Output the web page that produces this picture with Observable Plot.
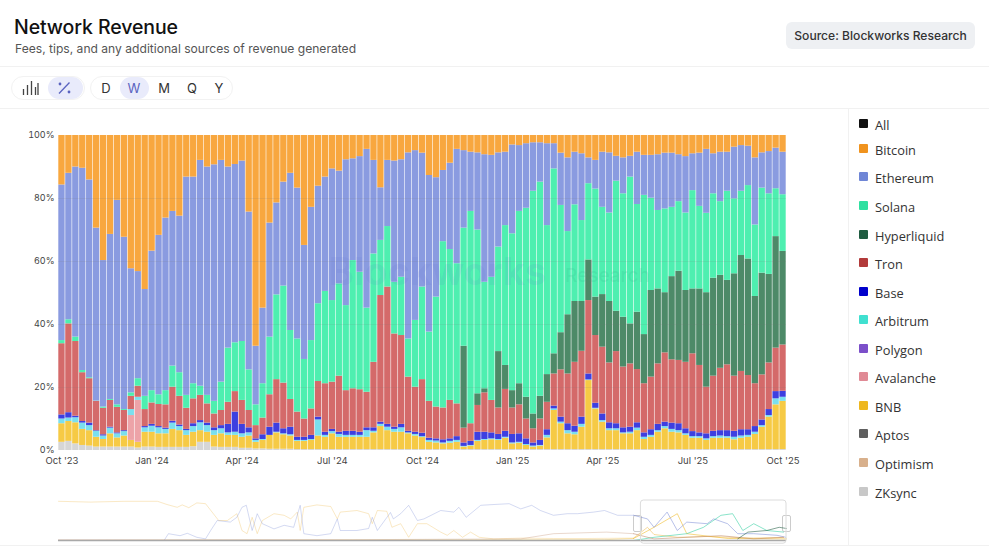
<!DOCTYPE html>
<html><head><meta charset="utf-8">
<script src="https://cdn.jsdelivr.net/npm/d3@7"></script>
<script src="https://cdn.jsdelivr.net/npm/@observablehq/plot@0.6"></script>
<style>
html,body{margin:0;padding:0;background:#fff;width:989px;height:549px;overflow:hidden;font-family:Inter,"Noto Sans",sans-serif;color:#111}
.abs{position:absolute}
#title{left:14px;top:14px;font-size:19.5px;font-weight:500;line-height:26px;letter-spacing:-.1px}
#sub{left:15px;top:40px;font-size:12.1px;color:#555;line-height:17px}
#src{left:786px;top:22px;width:189px;height:27px;line-height:27px;background:#eef0f3;border-radius:6px;text-align:center;font-size:12.1px;font-weight:500;color:#333}
.rule{background:#f1f1f1;height:1px}
.grp{border:1px solid #f2f2f2;border-radius:13px;height:24px;top:76px;box-sizing:border-box}
.pill{background:#e9ebfb;border-radius:11px;height:22px;top:77px}
.tf{top:80px;font-size:13px;line-height:17px;width:20px;text-align:center;color:#333}
.sw{left:859px;width:9px;height:9px;border-radius:1px}
.lg{left:875px;font-size:12.8px;line-height:16px;color:#333;font-family:"Open Sans",sans-serif}
#main,#nav{position:absolute;left:0}
#main{top:108px}#nav{top:490px}
svg{display:block;overflow:visible}
.hd{background:#fff;border:1px solid #ccc;border-radius:2px;width:7px;height:15px;top:515px}
</style></head><body>
<div id="title" class="abs">Network Revenue</div>
<div id="sub" class="abs">Fees, tips, and any additional sources of revenue generated</div>
<div id="src" class="abs">Source: Blockworks Research</div>
<div class="abs rule" style="left:0;top:66px;width:989px"></div>
<div class="abs rule" style="left:0;top:108px;width:989px"></div>
<div class="abs rule" style="left:0;top:545px;width:989px"></div>
<div class="abs" style="left:848px;top:108px;width:1px;height:437px;background:#f1f1f1"></div>
<div class="abs grp" style="left:11px;width:74px"></div>
<div class="abs grp" style="left:90px;width:143px"></div>
<div class="abs pill" style="left:48px;width:35px"></div>
<div class="abs pill" style="left:120px;width:29px"></div>
<svg class="abs" style="left:22px;top:80px" width="17" height="16" viewBox="0 0 17 16"><path d="M1.5 15V9M5.5 15V5M9.5 15V1M13.5 15V7" stroke="#444" stroke-width="1.3" fill="none"/><path d="M16 15V3" stroke="#444" stroke-width="1.3"/></svg>
<svg class="abs" style="left:57px;top:81px" width="15" height="14" viewBox="0 0 15 14"><path d="M12.5 1.5 2 12.5" stroke="#5a63c0" stroke-width="1.3"/><circle cx="3" cy="3" r="1.4" fill="#5a63c0"/><circle cx="12" cy="11" r="1.4" fill="#5a63c0"/></svg>
<div id="tfs"></div><div id="legend"></div>
<div id="main"></div><div id="nav"></div>
<script>
const weekCount = 105;
const tickWeeks = [0,13,26,39,52,65,78,91,104];
const tickLabels = ["Oct '23","Jan '24","Apr '24","Jul '24","Oct '24","Jan '25","Apr '25","Jul '25","Oct '25"];
const timeframes = ["D","W","M","Q","Y"];
const legendNames = ["All","Bitcoin","Ethereum","Solana","Hyperliquid","Tron","Base","Arbitrum","Polygon","Avalanche","BNB","Aptos","Optimism","ZKsync"];
const legendColors = ["#111111","#f0931e","#6f86d6","#2fe0a0","#1f5c41","#b23a3a","#0000cc","#40e0d0","#7b4fc9","#e08a95","#eeb71f","#5f5f5f","#d8b08c","#c8c8c8"];
const barNames = ["Bitcoin","Ethereum","Solana","Hyperliquid","Tron","Base","Arbitrum","Avalanche","BNB","ZKsync"];
const barColors = ["#f8a73f","#8a9be0","#4eefb0","#4d8a68","#d46a6a","#3d3fe0","#7adfee","#eda3a8","#f6ca45","#d6d6d6"];

// upper edge of each band in the 100% stack, percent
const ethereumTop = [84.3,88,90,89.6,85.9,70.6,60.3,68.6,79.4,67.7,57.7,56.8,51.1,63.3,68.3,73.8,75.9,74.4,86.8,86.8,92.1,90,90.7,92.1,90,90.8,91.9,75.7,33.1,45.2,72.2,78.6,85.2,88,83.3,
65.1,77.2,83.9,86.8,89.4,88.7,92.3,92.6,93.3,95.6,92.1,83.4,92.1,91.9,92.3,94.5,95.2,94.4,87.3,86.6,88.9,91.2,95.6,95.2,94.7,94.5,93.9,93.7,94.5,94.7,97,96.8,97.4,97.7,97.7,97.4,
97.4,94.4,92.9,94.7,94.2,92.9,92.1,94.7,94.5,93.4,92.9,93.4,94.7,93.7,93.7,93.9,94.4,94.4,93.9,93.3,94.2,94.4,95.6,94.2,94.7,94.7,96.3,96.8,96.6,92.9,94.5,94.9,96,94.7];
const solanaTop = [34.9,41.5,36,25.4,23.1,15.7,13.8,16.2,14.5,13,18.3,22.8,17.2,19,17.7,19,26.8,24.7,17.5,21.2,20.4,17.5,15.6,21.7,32.5,34.2,34.6,25.6,14.5,21.2,36,49.4,52.2,38.1,35.4,
28.9,34.9,46.6,50.5,47.6,52.9,46,60.3,56.6,45.2,62.4,66.7,71.1,53.4,55,35.4,41.3,51.9,37.6,48.7,66.3,63.8,59.3,70.6,75.9,70,53.4,55,64.6,71.4,68.8,75.9,76.9,82.3,85.2,71.4,
89.4,77.8,69.5,78,73,84.7,83,77.2,75.4,85.5,81.5,86.8,78.1,81,80.1,76.2,76.7,77.2,79,75.4,82.5,77.5,75.3,81.5,79,82.3,79.9,82.3,84.1,71.6,83.3,81.5,83.1,81.2];
const hyperliquidShare = [0,0,0,0,0,0,0,0,0,0,0,0,0,0,0,0,0,0,0,0,0,0,0,0,0,0,0,0,0,0,0,0,0,0,0,
0,0,0,0,0,0,0,0,0,0,0,0,0,0,0,0,0,0,0,0,0,0,0,26,0,3.7,1.3,0,17.9,7.6,5.5,6.7,6.9,4.7,7.2,8.8,
6.4,11.8,18.8,19.3,15.8,12.9,12.2,16.7,19.5,12.8,15.8,12.7,18.2,15.6,27.5,23.8,19.1,26.4,28.3,22.8,20.6,24.3,30,31.1,29.5,26.8,32.5,36.8,37,27.7,32.3,28.1,35.4,29.7];
const tronTop = [33.9,40.2,34.6,24.7,22.8,15.6,13.4,15.9,13.7,12.7,17.2,20.4,13,15.1,14.6,14.5,20.1,17.2,13.4,16.4,17.5,14.8,11.6,12.7,15.3,18.7,15.9,12.7,7.9,10.3,17.7,22.5,21.4,16.2,12.2,
10,13.2,21.9,21.2,21.7,23.6,19,19.6,19.3,18.5,28,49.2,51.9,37,36.5,23.3,20.1,22.5,15.6,13.8,13.5,15.9,14.8,7.1,8.5,14.3,18.3,15.9,13.5,19.4,13.5,14.5,10,6.9,10,15.3,
24.3,25.6,24.3,28,31.5,47.6,36.5,32.8,27.8,31.4,26.5,27.5,25.7,21.2,23.3,27.5,31,28.8,28.6,28,30.7,27,20.1,23.6,26.1,27.2,23.6,25.1,23.8,21.2,24,27.8,32.5,33.5];
const baseTop = [11.3,12,10.9,9.2,8.7,6.3,5,7.4,5.6,6.3,13,16.9,7.6,8.3,7.6,7.1,9.3,8.1,6.7,8.5,9.5,8.7,7.2,7.9,8.3,12.2,8.3,7.2,3.7,5,7.4,8.7,6.9,7.4,4.2,
4.2,4.8,10.6,5.8,6.7,5.8,6.1,6.1,5.8,7.2,7.2,9,8.3,7.4,8.3,6.1,5.8,5.5,3.9,3.7,3.4,3.7,4.4,2.4,2.9,5.8,5.8,5.6,5.1,6.1,5.1,5.3,3.7,2.4,3.2,6.6,
14.1,10.6,8.5,7.7,10.6,24.3,15,11.6,8.8,8.5,7.2,7.4,8.8,5.6,6.6,8.3,9,8.7,8.5,6.9,6,5.6,5.3,6.1,6.3,6.3,6.1,6.6,6.6,7.6,9.7,13,18.7,18.8];
const arbitrumTop = [10,10.3,10.4,8.7,7.9,6.1,4.6,7.1,5.3,6,13,16.9,7.2,7.7,7.2,6.7,8.7,7.6,6.3,7.6,8.8,7.9,6.3,6.9,5.6,5.8,5.3,5.6,3.2,3.5,4.8,5.8,5.3,5,3.2,
3.2,3.5,9.7,4.8,6,5.1,4.8,4.8,4.8,6.3,6.1,8.3,7.4,6.7,7.2,5.6,5.1,4.4,3.2,3,2.4,2.9,3.2,1.3,1.6,3.2,3.5,3.7,3.5,4.2,2.4,2.6,1.9,1.4,1.6,4.8,
13.2,9,6.3,5.8,8.3,22.4,13.4,9.5,6.9,6.9,5.6,5.8,7.1,4.2,4.8,6.3,7.6,6.7,6.3,5.3,4.4,4.4,3.7,4.4,4.6,4.4,4.2,4.6,4.8,5.8,7.9,11.1,16.4,16.9];
const avalancheShare = [0,0,0,0,0,0,0,0,0,0,7.9,13.3,0,0,0,0,0,0,0,0,0,0,0,0,0,0,0,0,0,0,0,0,0,0,0,
0,0,0,0,0,0,0,0,0,0,0,0,0,0,0,0,0,0,0,0,0,0,0,0,0,0,0,0,0,0,0,0,0,0,0,0,
0,0,0,0,0,0,0,0,0,0,0,0,0,0,0,0,0,0,0,0,0,0,0,0,0,0,0,0,0,0,0,0,0,0];
const bnbTop = [8.5,9.2,8.8,6.7,6.3,4.2,3.5,5.3,4,4.6,3.2,2.6,5.8,5.8,5.3,5.3,6.7,6.3,4.8,5.8,6.3,5.8,4.8,5.3,4.8,4.8,4.2,4.6,2.6,3.2,4.8,5.6,5,4.6,2.9,
2.9,3.2,4.6,4.2,5.3,4.2,4.2,4.2,4.2,4.2,5.6,7.6,6.3,5.8,5.8,5.3,4.6,4.1,2.6,2.4,2.1,2.3,2.6,1.1,1.4,2.9,3.2,3.4,3.2,3.9,2.1,2.3,1.6,1.1,1.4,4,
12.7,8.5,5.3,5,7.4,22.2,13.2,9,6.3,6.3,5.3,5.3,6.3,3.5,4.2,5.8,6.9,5.8,5.6,4.8,3.9,3.9,3.2,3.9,3.9,3.9,3.4,3.9,4.2,5.1,7.4,10.6,14.5,15.6];
const zksyncTop = [2.6,2.9,2.1,1.6,1.4,1.1,1.1,1.1,1.1,1.1,1.1,0.8,1.1,1.1,1,1,1,1,1,1.2,2.6,2.6,1.1,1,1,1,0.7,0.7,0.5,0.5,0.4,0.4,0.4,0.4,0.3,
0.3,0.3,0.3,0.3,0.3,0.3,0.3,0.3,0.3,0.3,0.3,0.3,0.3,0.3,0.3,0.3,0.3,0.3,0.3,0.3,0.3,0.3,0.3,0.3,0.3,0.3,0.3,0.3,0.3,0.3,0.3,0.3,0.3,0.3,0.3,0.3,
0.3,0.3,0.3,0.3,0.3,0.3,0.3,0.3,0.3,0.3,0.3,0.3,0.3,0.3,0.3,0.3,0.3,0.3,0.3,0.3,0.3,0.3,0.3,0.3,0.3,0.3,0.3,0.3,0.3,0.3,0.3,0.3,0.3,0.3];

// overview strip: share of revenue at points along the full history (time in percent of the strip)
const navBitcoinT = [0,4.4,9,13.6,14.9,16.3,17,17.9,19,20.2,21.1,22,23.2,24.5,25.2,25.9,26.6,27.3,28,29.6,31,31.9,32.8,33.2,33.7,35.5,37.4,38.3,38.7,41,42.6,43.1,43.8,45.1,45.8,47,48.1,49.3,50.6,52.5,53.4,54.3,55.5,56.6,57.8,59.8,63.5,68,72.6,79,80.9,81.8,85,89.1,95.5,99.6];
const navBitcoinV = [98,96,98,98,90,83,89,82,94,92,71,50,50,67,25,17,58,17,50,67,63,54,71,25,83,89,85,54,71,75,67,42,75,73,33,42,8,42,42,21,13,25,8,21,8,4,6,5,5,6,33,15,8,10,6,8];
const navEthereumT = [0,14.5,15.1,16.7,17.7,19,20.2,20.9,21.8,23.6,24.5,25.2,25.8,26.6,27.3,28,29.6,31,32.3,33.2,33.7,35.5,37.4,38.3,38.7,41,42.6,43.1,43.8,45.6,46,47,48.1,49.3,50.2,52.5,54.3,55,56,58,59.8,61.9,63.5,65,66.2,68,69.9,71.3,73.5,75,76.8,79,80.9,81.8,83.6,85,86.3,89.1,90,91.9,93.3,95.5,98.7,99.9];
const navEthereumV = [0,0,17,12,18,8,4,25,50,46,58,83,88,25,67,42,29,38,33,88,17,12,17,54,25,25,30,58,25,70,54,67,88,50,54,75,71,83,58,88,90,92,79,88,75,63,67,67,71,75,63,63,54,33,71,25,46,42,54,42,17,17,13,8];
const navSolanaT = [0,79,81.8,86.3,88.6,91,92.6,94,95.5,97.3,99.6];
const navSolanaV = [0,0,8,17,33,63,67,25,42,25,21];
const navHyperliquidT = [0,93.3,94.7,97.3,99,100];
const navHyperliquidV = [0,4,21,25,33,30];
const navTronT = [0,40,63.5,68,75.3,79,81.8,91,95.5,99.6];
const navTronV = [2,2,4,17,21,17,4,12,4,8];
const navBnbT = [0,75,79,81.8,85,86.3,92,100];
const navBnbV = [0,2,5,33,67,17,5,4];
const navWindow = [80,100];

const edges = [
 ["ZKsync", i=>0, i=>zksyncTop[i]],
 ["BNB", i=>zksyncTop[i], i=>bnbTop[i]],
 ["Avalanche", i=>bnbTop[i], i=>bnbTop[i]+avalancheShare[i]],
 ["Arbitrum", i=>bnbTop[i]+avalancheShare[i], i=>arbitrumTop[i]],
 ["Base", i=>arbitrumTop[i], i=>baseTop[i]],
 ["Tron", i=>baseTop[i], i=>tronTop[i]],
 ["Hyperliquid", i=>tronTop[i], i=>tronTop[i]+hyperliquidShare[i]],
 ["Solana", i=>tronTop[i]+hyperliquidShare[i], i=>solanaTop[i]],
 ["Ethereum", i=>solanaTop[i], i=>ethereumTop[i]],
 ["Bitcoin", i=>ethereumTop[i], i=>100]
];
const rows = edges.flatMap(([name,lo,hi]) => d3.range(weekCount).map(i => ({week:i,name,y1:lo(i),y2:hi(i)}))).filter(d => d.y2 > d.y1);

const main = Plot.plot({
  width:848, height:360, marginLeft:58, marginRight:62, marginTop:27, marginBottom:18,
  style:{background:"transparent",fontFamily:"Inter,sans-serif",fontSize:"9.5px",color:"#444"},
  x:{type:"band",domain:d3.range(weekCount),padding:0,label:null},
  y:{domain:[0,100],label:null},
  color:{domain:barNames,range:barColors},
  marks:[
    Plot.barY(rows,{x:"week",y1:"y1",y2:"y2",fill:"name",insetLeft:0.3,insetRight:0.3}),
    Plot.gridY([20,40,60,80],{stroke:"#777",strokeOpacity:0.12,strokeWidth:1}),
    Plot.text(["Blockworks"],{frameAnchor:"middle",dx:15,dy:-20,fontSize:38,fontWeight:700,fill:"#5a6ad0",fillOpacity:0.1}),
    Plot.text(["Research"],{frameAnchor:"middle",dx:185,dy:-17,fontSize:19,fontWeight:500,fill:"#2fae85",fillOpacity:0.16}),
    Plot.axisX({ticks:tickWeeks,tickSize:0,tickPadding:7,tickFormat:d=>tickLabels[tickWeeks.indexOf(d)],label:null}),
    Plot.axisY({ticks:[0,20,40,60,80,100],tickSize:0,tickPadding:4,fontSize:9,tickFormat:d=>d+"%",label:null})
  ]
});
document.getElementById("main").append(main);

const navSeries = [
 ["Bitcoin",navBitcoinT,navBitcoinV,"#f0bd55"],
 ["BNB",navBnbT,navBnbV,"#eeb71f"],
 ["Ethereum",navEthereumT,navEthereumV,"#7f8fd8"],
 ["Solana",navSolanaT,navSolanaV,"#2fcfa0"],
 ["Tron",navTronT,navTronV,"#c08a6a"],
 ["Hyperliquid",navHyperliquidT,navHyperliquidV,"#1f5c41"]
];
const navRows = s => s[1].map((t,i)=>({t,v:s[2][i]}));
const nav = Plot.plot({
  width:848,height:59,marginLeft:58,marginRight:62,marginTop:10,marginBottom:9,
  style:{background:"transparent"},
  x:{domain:[0,100],axis:null},y:{domain:[0,100],axis:null},
  marks:[
    ...navSeries.map(s=>Plot.lineY(navRows(s).filter(d=>d.t<=navWindow[0]),{x:"t",y:"v",stroke:s[3],strokeWidth:0.8,strokeOpacity:0.42,curve:"linear"})),
    ...navSeries.map(s=>Plot.lineY(navRows(s).filter(d=>d.t>=navWindow[0]-1),{x:"t",y:"v",stroke:s[3],strokeWidth:0.8,strokeOpacity:0.7,curve:"linear"})),
    Plot.ruleY([0],{stroke:"#a9a9a9",strokeWidth:1.6}),
    Plot.rect([navWindow],{x1:d=>d[0],x2:d=>d[1],y1:-8,y2:100,stroke:"#dcdcdc",fill:"none",rx:3,strokeWidth:1})
  ]
});
document.getElementById("nav").append(nav);

const tfX=[96,124,154,182,209];
document.getElementById("tfs").innerHTML=timeframes.map((t,i)=>`<div class="abs tf" style="left:${tfX[i]}px;${t==="W"?"color:#5a63c0":""}">${t}</div>`).join("");
const legY=[125,150,178,207,236,264,293,321,350,378,407,435,464,493];
document.getElementById("legend").innerHTML=legendNames.map((n,i)=>`<div class="abs sw" style="top:${legY[i]-6}px;background:${legendColors[i]}"></div><div class="abs lg" style="top:${legY[i]-8}px">${n}</div>`).join("")+
`<div class="abs hd" style="left:633px"></div><div class="abs hd" style="left:782px"></div>`;
</script>
</body></html>
